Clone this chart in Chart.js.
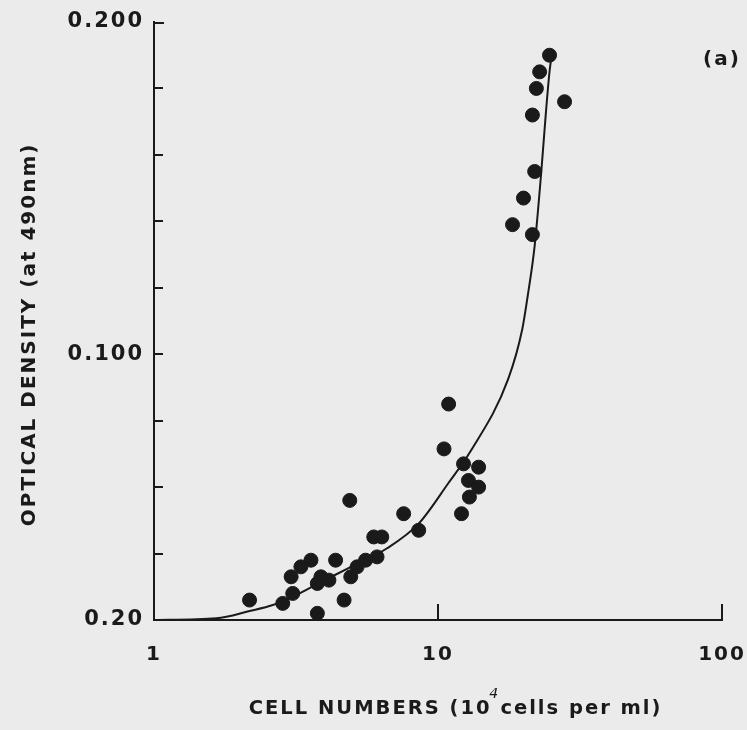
<!DOCTYPE html>
<html>
<head>
<meta charset="utf-8">
<script src="https://cdn.jsdelivr.net/npm/chart.js@4.4.1/dist/chart.umd.min.js"></script>
<style>
  html, body { margin: 0; padding: 0; background: #ebebeb; }
  #wrap { width: 747px; height: 730px; }
</style>
</head>
<body>
<div id="wrap"><canvas id="odChart" width="747" height="730"></canvas></div>
<script>
// measured points: cell numbers (10^4 cells per ml) vs optical density at 490nm
const cellNumbers = [
  24.7, 22.8, 22.2, 27.9, 21.5, 21.9, 20.0, 18.3, 21.5,
  10.9, 10.5, 12.3, 13.9, 12.8, 13.9, 12.9, 12.1, 7.57, 8.55,
  4.89, 5.94, 6.34, 6.10, 5.56, 5.19, 4.93, 4.67, 4.36, 4.13, 3.87,
  3.76, 3.76, 3.57, 3.29, 3.04, 3.08, 2.84, 2.17
];
const opticalDensity = [
  0.190, 0.185, 0.180, 0.176, 0.172, 0.155, 0.147, 0.139, 0.136,
  0.085, 0.0715, 0.067, 0.066, 0.062, 0.060, 0.057, 0.052, 0.052, 0.047,
  0.056, 0.045, 0.045, 0.039, 0.038, 0.036, 0.033, 0.026, 0.038, 0.032, 0.033,
  0.031, 0.022, 0.038, 0.036, 0.033, 0.028, 0.025, 0.026
];

// fitted curve
const fitCells = [1, 1.66, 2.17, 2.62, 3.16, 3.81, 4.86, 6.62, 8.55, 10.9, 13.0, 17.66, 19.8, 20.7, 21.9, 23.1, 24.0, 24.7, 25.0];
const fitDensity = [0.020, 0.0205, 0.0227, 0.0245, 0.0275, 0.0311, 0.0357, 0.0416, 0.0490, 0.0613, 0.0707, 0.0925, 0.1075, 0.1176, 0.1327, 0.1549, 0.1730, 0.1851, 0.1886];

// axes
const xTickValues = [1, 10, 100];
const xTickLabels = ['1', '10', '100'];
const yAxisMin = 0.02;
const yAxisMax = 0.2;
const yTickValues = [0.02, 0.1, 0.2];
const yTickLabels = ['0.20', '0.100', '0.200'];
const yMinorTicks = [0.04, 0.06, 0.08, 0.10, 0.12, 0.14, 0.16, 0.18];
const xInnerTicks = [10, 100];

const ink = '#1a1a1a';
const fontName = 'DejaVu Sans';

const scatterPoints = cellNumbers.map((c, i) => ({ x: c, y: opticalDensity[i] }));
const curvePoints = fitCells.map((c, i) => ({ x: c, y: fitDensity[i] }));

// ticks on the inside of the axes, the "(a)" mark and the superscript 4
const extrasPlugin = {
  id: 'extras',
  beforeDraw(chart) {
    chart.ctx.letterSpacing = '2px';
  },
  afterDraw(chart) {
    const ctx = chart.ctx;
    const { left, right, top, bottom } = chart.chartArea;
    const xs = chart.scales.x, ys = chart.scales.y;
    ctx.save();
    ctx.strokeStyle = ink;
    ctx.lineWidth = 2;
    ctx.beginPath();
    yMinorTicks.forEach(v => {
      const py = Math.round(ys.getPixelForValue(v));
      ctx.moveTo(left, py);
      ctx.lineTo(left + 9, py);
    });
    ctx.moveTo(left, top + 1);
    ctx.lineTo(left + 10, top + 1);
    xInnerTicks.forEach(v => {
      const px = Math.round(xs.getPixelForValue(v));
      ctx.moveTo(px, bottom);
      ctx.lineTo(px, bottom - 16);
    });
    ctx.stroke();

    ctx.fillStyle = ink;
    ctx.letterSpacing = '2px';
    ctx.font = 'bold 20px "' + fontName + '"';
    ctx.textAlign = 'center';
    ctx.textBaseline = 'middle';
    ctx.fillText('(a)', 722, 60);

    // superscript on the x title, over the gap after "(10"
    const title = chart.options.scales.x.title;
    ctx.font = 'bold ' + title.font.size + 'px "' + fontName + '"';
    const full = ctx.measureText(title.text).width;
    const before = ctx.measureText(title.text.split(' cells')[0]).width;
    const startX = (left + right) / 2 - full / 2;
    ctx.font = 'italic 14px "' + fontName + '"';
    ctx.fillText('4', startX + before + 3, 694);
    ctx.restore();
  }
};

new Chart(document.getElementById('odChart'), {
  type: 'scatter',
  data: {
    datasets: [
      {
        label: 'Optical density',
        data: scatterPoints,
        pointRadius: 7,
        pointHoverRadius: 7,
        pointBackgroundColor: ink,
        pointBorderColor: ink,
        pointBorderWidth: 1,
        showLine: false
      },
      {
        label: 'Fit',
        data: curvePoints,
        showLine: true,
        pointRadius: 0,
        borderColor: ink,
        borderWidth: 2,
        cubicInterpolationMode: 'monotone'
      }
    ]
  },
  options: {
    responsive: false,
    animation: false,
    layout: { padding: { left: 0, top: 22, right: 25, bottom: 0 } },
    plugins: {
      legend: { display: false },
      tooltip: { enabled: false }
    },
    scales: {
      x: {
        type: 'logarithmic',
        min: 1,
        max: 100,
        afterBuildTicks: (scale) => { scale.ticks = xTickValues.map(v => ({ value: v })); },
        afterFit: (scale) => { scale.height = 110; scale.paddingLeft = 0; scale.paddingRight = 0; },
        ticks: {
          color: ink,
          font: { family: fontName, size: 20, weight: 'bold' },
          padding: 23,
          maxRotation: 0,
          callback: (v) => xTickLabels[xTickValues.indexOf(v)]
        },
        grid: { display: false, drawTicks: false },
        border: { display: true, color: ink, width: 2 },
        title: {
          display: true,
          text: '    CELL NUMBERS (10 cells per ml)',
          color: ink,
          font: { family: fontName, size: 19.5, weight: 'bold' },
          padding: { top: 0, bottom: 9 }
        }
      },
      y: {
        type: 'linear',
        min: yAxisMin,
        max: yAxisMax,
        afterBuildTicks: (scale) => { scale.ticks = yTickValues.map(v => ({ value: v })); },
        afterFit: (scale) => { scale.width = 154; scale.paddingTop = 0; scale.paddingBottom = 0; },
        ticks: {
          color: ink,
          font: { family: fontName, size: 21, weight: 'bold' },
          padding: 10,
          callback: (v) => yTickLabels[yTickValues.indexOf(v)]
        },
        grid: { display: false, drawTicks: false },
        border: { display: true, color: ink, width: 2 },
        title: {
          display: true,
          text: 'OPTICAL DENSITY (at 490nm)   ',
          color: ink,
          font: { family: fontName, size: 20, weight: 'bold' },
          padding: { top: 18, bottom: 0 }
        }
      }
    }
  },
  plugins: [extrasPlugin]
});
</script>
</body>
</html>
